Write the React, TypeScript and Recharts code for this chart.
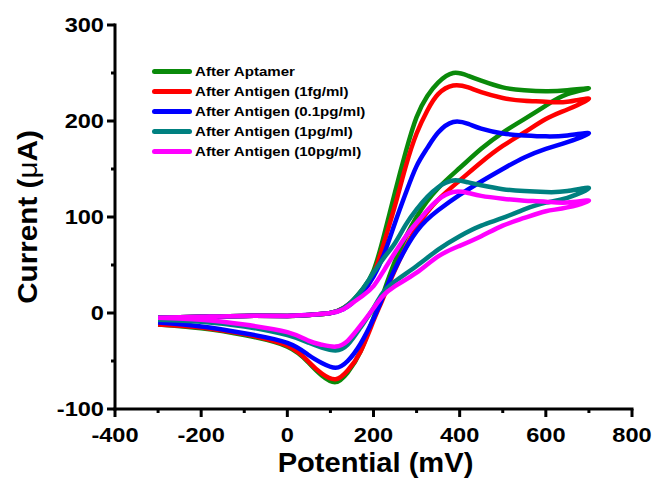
import { LineChart, Line, XAxis, YAxis, Legend } from "recharts";

// potential sweep (mV): anodic scan up to +700, then back down to -300
const forwardMv = [-300, -200, -100, 0, 50, 100, 130, 150, 175, 200, 225, 250, 275, 300, 325, 350, 385, 420, 450, 500, 550, 600, 650, 700];
const reverseMv = [650, 600, 550, 500, 450, 400, 350, 300, 250, 220, 200, 170, 140, 112, 80, 50, 0, -100, -200, -300];

// current (µA) along each scan
const aptamerFwd = [-5, -4, -3, -3, -2, 0, 5, 12, 25, 44, 82, 126, 168, 204, 226, 240, 250, 247, 242, 235, 232, 231, 232, 234];
const aptamerRev = [228, 216, 202, 188, 171, 151, 130, 100, 54, 17, -5, -40, -62, -72, -65, -52, -35, -23, -16, -12];

const fg1Fwd = [-5, -4, -3, -3, -2, 0, 5, 12, 22, 40, 74, 112, 153, 187, 211, 228, 237, 235, 230, 224, 221, 220, 220, 223];
const fg1Rev = [212, 202, 188, 174, 157, 138, 118, 89, 45, 13, -8, -40, -60, -69, -63, -51, -34, -22, -15, -12];

const pg01Fwd = [-5, -4, -3, -3, -2, 0, 4, 10, 22, 38, 62, 94, 125, 153, 172, 188, 199, 197, 192, 187, 185, 184, 185, 187];
const pg01Rev = [178, 171, 162, 150, 137, 123, 107, 85, 46, 15, -6, -32, -50, -57, -52, -44, -31, -21, -14, -10];

const pg1Fwd = [-5, -4, -3, -3, -2, 0, 5, 12, 25, 42, 58, 73, 92, 108, 121, 131, 138, 136, 133, 129, 127, 126, 127, 130];
const pg1Rev = [120, 115, 108, 99, 91, 80, 66, 49, 33, 20, 5, -15, -33, -39, -36, -31, -23, -14, -9, -7];

const pg10Fwd = [-5, -4, -3, -3, -2, 0, 4, 10, 18, 28, 45, 63, 80, 94, 107, 118, 126, 125, 122, 119, 117, 116, 115, 117];
const pg10Rev = [110, 106, 99, 91, 80, 70, 59, 42, 28, 17, 5, -13, -29, -35, -33, -29, -20, -12, -7, -5];

const seriesNames = [
  "After Aptamer",
  "After Antigen (1fg/ml)",
  "After Antigen (0.1pg/ml)",
  "After Antigen (1pg/ml)",
  "After Antigen (10pg/ml)",
];
const seriesColors = ["#0a8a0a", "#ff0000", "#0000ff", "#008080", "#ff00ff"];

const xTicks = [-400, -300, -200, -100, 0, 100, 200, 300, 400, 500, 600, 700, 800];
const yTicks = [-100, -50, 0, 50, 100, 150, 200, 250, 300];

const FONT = "'Liberation Sans', Arial, sans-serif";

function toLoop(fwd: number[], rev: number[]) {
  return [
    ...forwardMv.map((x, i) => ({ x, y: fwd[i] })),
    ...reverseMv.map((x, i) => ({ x, y: rev[i] })),
  ];
}

const loops = [
  toLoop(aptamerFwd, aptamerRev),
  toLoop(fg1Fwd, fg1Rev),
  toLoop(pg01Fwd, pg01Rev),
  toLoop(pg1Fwd, pg1Rev),
  toLoop(pg10Fwd, pg10Rev),
];

// bold text, widened a little horizontally
function WideText({ x, y, size, sx = 1.15, anchor = "middle", rotate = 0, children }: any) {
  return (
    <text
      transform={`translate(${x},${y}) rotate(${rotate}) scale(${sx},1)`}
      textAnchor={anchor}
      fontFamily={FONT}
      fontWeight={700}
      fontSize={size}
      fill="#000"
    >
      {children}
    </text>
  );
}

function BottomTick({ x, y, payload }: any) {
  const v = payload.value;
  const major = v % 200 === 0;
  return (
    <g>
      <line x1={x} x2={x} y1={y} y2={y + (major ? 8 : 4)} stroke="#000" strokeWidth={3} />
      {major && (
        <WideText x={x} y={y + 33} size={20} sx={1.18}>
          {v}
        </WideText>
      )}
    </g>
  );
}

function LeftTick({ x, y, payload }: any) {
  const v = payload.value;
  const major = v % 100 === 0;
  return (
    <g>
      <line x1={x} x2={x - (major ? 8 : 4)} y1={y} y2={y} stroke="#000" strokeWidth={3} />
      {major && (
        <WideText x={x - 11} y={y + 7} size={20} sx={1.18} anchor="end">
          {v}
        </WideText>
      )}
    </g>
  );
}

function XTitle({ viewBox }: any) {
  return (
    <WideText x={viewBox.x + viewBox.width / 2 + 2} y={viewBox.y + 63} size={28} sx={1.04}>
      Potential (mV)
    </WideText>
  );
}

function YTitle({ viewBox }: any) {
  return (
    <WideText x={37} y={viewBox.y + viewBox.height / 2} size={28} sx={1.06} rotate={-90}>
      Current (<tspan fontWeight={400}>μ</tspan>A)
    </WideText>
  );
}

function LegendBox() {
  return (
    <div style={{ fontFamily: FONT, fontWeight: 700, fontSize: 13, color: "#000" }}>
      {seriesNames.map((name, i) => (
        <div key={name} style={{ display: "flex", alignItems: "center", height: 19.8 }}>
          <div style={{ width: 40, height: 5, borderRadius: 3, background: seriesColors[i] }} />
          <span style={{ display: "inline-block", marginLeft: 3, transform: "scaleX(1.16)", transformOrigin: "left center", whiteSpace: "nowrap" }}>
            {name}
          </span>
        </div>
      ))}
    </div>
  );
}

const blank = () => <g />;
const frame = { stroke: "#000", strokeWidth: 3, strokeLinecap: "square" as const };

export default function App() {
  return (
    <div style={{ position: "absolute", left: 0, top: 0, width: 654, height: 479, background: "#fff" }}>
      <LineChart width={654} height={479} margin={{ top: 25, right: 22, left: 0, bottom: 0 }}>
        <XAxis
          dataKey="x"
          type="number"
          domain={[-400, 800]}
          ticks={xTicks}
          interval={0}
          height={70}
          axisLine={frame}
          tickLine={false}
          tickSize={0}
          tickMargin={0}
          tick={<BottomTick />}
          label={<XTitle />}
        />
        <XAxis
          xAxisId="top"
          orientation="top"
          dataKey="x"
          type="number"
          domain={[-400, 800]}
          ticks={xTicks}
          height={0}
          axisLine={frame}
          tickLine={{ stroke: "#000", strokeWidth: 1.5 }}
          tickSize={2}
          tick={blank}
        />
        <YAxis
          type="number"
          domain={[-100, 300]}
          ticks={yTicks}
          interval={0}
          width={115}
          axisLine={frame}
          tickLine={false}
          tickSize={0}
          tickMargin={0}
          tick={<LeftTick />}
          label={<YTitle />}
        />
        <YAxis
          yAxisId="right"
          orientation="right"
          type="number"
          domain={[-100, 300]}
          ticks={yTicks}
          width={0}
          axisLine={frame}
          tickLine={{ stroke: "#000", strokeWidth: 1.5 }}
          tickSize={2}
          tick={blank}
        />
        {loops.map((data, i) => (
          <Line
            key={seriesNames[i]}
            data={data}
            dataKey="y"
            name={seriesNames[i]}
            type="natural"
            stroke={seriesColors[i]}
            strokeWidth={4.5}
            dot={false}
            activeDot={false}
            isAnimationActive={false}
          />
        ))}
        <Legend
          layout="horizontal"
          verticalAlign="middle"
          align="center"
          content={<LegendBox />}
          wrapperStyle={{ left: 152, top: 62, width: "auto", height: "auto" }}
        />
      </LineChart>
    </div>
  );
}
